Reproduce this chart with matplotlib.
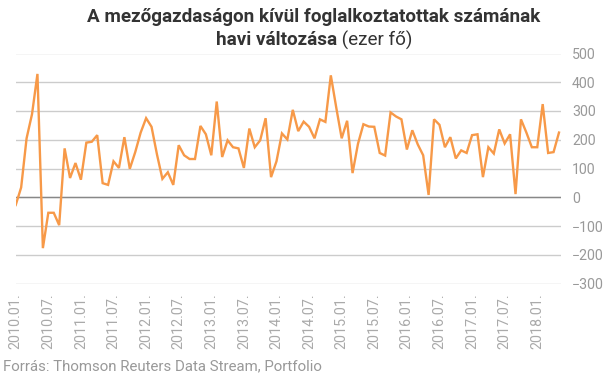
import numpy as np
import matplotlib
matplotlib.use("Agg")
import matplotlib.pyplot as plt

plt.rcParams['font.family'] = ['Roboto', 'DejaVu Sans']

# havi változás, ezer fő, 2010.01 - 2018.05
values = [-27, 34, 205, 289, 429, -177, -54, -54, -97, 170, 67, 119,
          61, 190, 193, 216, 49, 43, 125, 102, 209, 99, 157, 225,
          275, 245, 149, 64, 87, 43, 181, 146, 133, 133, 248, 219,
          146, 333, 140, 198, 174, 170, 102, 239, 174, 198, 275, 70,
          125, 222, 201, 304, 230, 263, 245, 205, 271, 262, 424, 312,
          205, 266, 84, 186, 254, 246, 245, 154, 145, 295, 281, 271,
          166, 233, 184, 146, 8, 271, 252, 174, 209, 135, 163, 154,
          216, 219, 70, 174, 152, 236, 187, 219, 11, 271, 225, 174,
          174, 324, 154, 157, 225]
months = [f"{2010 + i // 12}.{i % 12 + 1:02d}." for i in range(len(values))]
yticks = [-300, -200, -100, 0, 100, 200, 300, 400, 500]

title1 = "A mezőgazdaságon kívül foglalkoztatottak számának"
title2_bold = "havi változása"
title2_reg = " (ezer fő)"
source = "Forrás: Thomson Reuters Data Stream, Portfolio"

fig = plt.figure(figsize=(6.05, 3.78), dpi=100)
ax = fig.add_axes([15.5 / 605, 1 - 283.5 / 378, (561 - 15.5) / 605, (283.5 - 53.5) / 378])

x = np.arange(len(values))
ax.plot(x, values, color='#f79948', lw=1.7, solid_joinstyle='miter', zorder=3)

ax.set_ylim(-300, 500)
ax.set_xlim(-0.04, len(values) - 1 + 0.37)
ax.set_yticks(yticks)
ax.grid(axis='y', color='#cccccc', lw=1)
ax.axhline(0, color='#888888', lw=1, zorder=2)
ax.yaxis.tick_right()
ax.tick_params(axis='y', length=0, pad=8, labelsize=10.2, labelcolor='#999999')
ax.set_xticks(x[::6])
ax.set_xticklabels(months[::6], rotation=90)
ax.tick_params(axis='x', length=0, pad=7, labelsize=10.3, labelcolor='#aaaaaa')
for s in ax.spines.values():
    s.set_visible(False)

# title
fs = 13.6
fig.text(314 / 605, 1 - 17 / 378, title1, ha='center', va='center',
         fontsize=fs, fontweight='bold', color='#333333')
r = fig.canvas.get_renderer()
tb = fig.text(0, 0, title2_bold, fontsize=fs, fontweight='bold', color='#333333')
tr = fig.text(0, 0, title2_reg, fontsize=fs, color='#333333')
wb = tb.get_window_extent(r).width
wr = tr.get_window_extent(r).width
x0 = 314 - (wb + wr) / 2
yy = 1 - 40 / 378
tb.set_position((x0 / 605, yy))
tb.set_va('center')
tr.set_position(((x0 + wb) / 605, yy))
tr.set_va('center')

fig.text(3 / 605, 1 - 366 / 378, source, ha='left', va='center',
         fontsize=10.8, color='#999999')

fig.savefig('out.png', dpi=100)
